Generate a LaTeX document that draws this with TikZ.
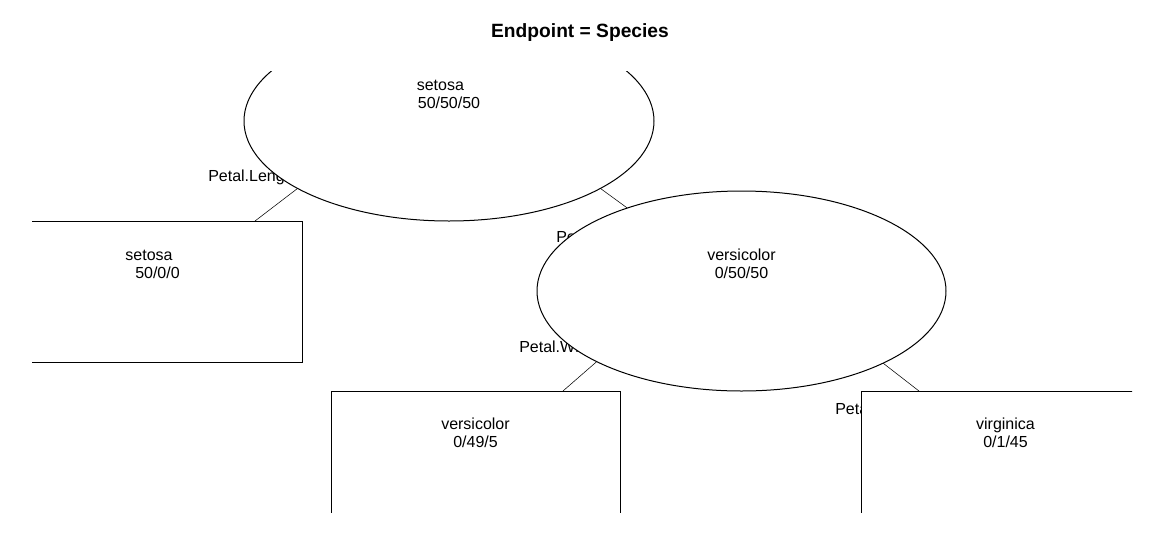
\documentclass[tikz,border=0pt]{standalone}
\usepackage{fontspec}
\setmainfont{Liberation Sans}
\usepackage{tikz}
\usetikzlibrary{positioning,
                shapes,
                shapes.geometric}
\pgfdeclarelayer{background}
\pgfsetlayers{background,main}

\begin{document}
\begin{tikzpicture}[
			x=0.75pt, y=-0.75pt,
			line width=0.75pt,
			inner/.style = {ellipse, draw, fill=white, inner sep=0pt, outer sep=0pt, minimum height=150pt},
			leaf/.style = {rectangle, draw, fill=white, inner sep=0pt, outer sep=0pt, minimum width=216.75pt, minimum height=105.75pt},
			nodetext/.style = {align=center, inner sep=0pt, font=\fontsize{12}{13.5}\selectfont},
			split/.style = {anchor=west, inner sep=0pt, font=\fontsize{12}{13.5}\selectfont},
			]
			\useasboundingbox (0,0) rectangle (1154,547);
			\node[font=\fontsize{14.4}{16}\selectfont\bfseries] (title) at (580,33) {Endpoint = Species};
			% tree nodes
			\begin{scope}
			\clip (32,71) rectangle (1132,512);
			\node[inner, minimum width=307.5pt] (root) at (449,121) {};
			\node[inner, minimum width=306.75pt] (versi) at (741.5,291) {};
			\node[leaf] (setosaleaf) at (157.5,291.5) {};
			\node[leaf] (versileaf) at (475.5,461.5) {};
			\node[leaf] (virgileaf) at (1005.5,461.5) {};
			\end{scope}
			% node texts
			\node[nodetext] (roottext) at ([yshift=20.25pt]root.center) {setosa\makebox[13pt]{}\\50/50/50};
			\node[nodetext] (versitext) at ([yshift=20.25pt]versi.center) {versicolor\\0/50/50};
			\node[nodetext] (setosatext) at ([yshift=20.6pt]setosaleaf.center) {setosa\makebox[12.75pt]{}\\50/0/0};
			\node[nodetext] (versileaftext) at ([yshift=21.4pt]versileaf.center) {versicolor\\0/49/5};
			\node[nodetext] (virgitext) at ([yshift=21.4pt]virgileaf.center) {virginica\\0/1/45};
			% edges and split labels behind the nodes
			\begin{pgfonlayer}{background}
			\draw (root.204) -- ([xshift=73.125pt]setosaleaf.north);
			\draw (root.336) -- (versi.144);
			\draw (versi.206) -- ([xshift=65.6pt]versileaf.north);
			\draw (versi.333) -- ([xshift=-64.9pt]virgileaf.north);
			\node[split] (lenA) at (208,177) {Petal.Leng};
			\node[split] (lenB) at (556,237) {Pe};
			\node[split] (widA) at (519,347) {Petal.Wi};
			\node[split] (widB) at (835,409) {Peta};
			\end{pgfonlayer}
\end{tikzpicture}
\end{document}
